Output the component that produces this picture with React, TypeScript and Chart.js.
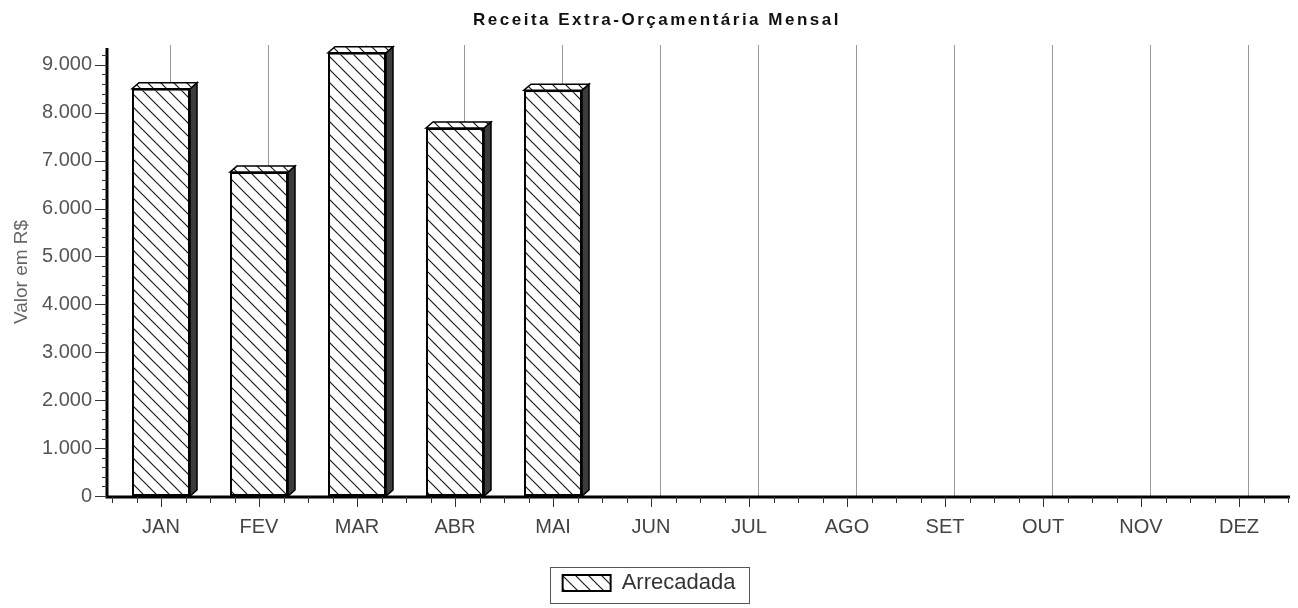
import { useEffect, useRef } from 'react';
import { Chart, registerables } from 'chart.js';

Chart.register(...registerables);

const TITLE = 'Receita Extra-Orçamentária Mensal';
const Y_TITLE = 'Valor em R$';
const SERIES_LABEL = 'Arrecadada';
const MONTHS = ['JAN', 'FEV', 'MAR', 'ABR', 'MAI', 'JUN', 'JUL', 'AGO', 'SET', 'OUT', 'NOV', 'DEZ'];
const ARRECADADA: (number | null)[] = [8500, 6760, 9250, 7680, 8470, null, null, null, null, null, null, null];
const Y_TICKS = [0, 1000, 2000, 3000, 4000, 5000, 6000, 7000, 8000, 9000];
const Y_MAX = 9350;
const Y_STEP = 1000;
const Y_MINOR_STEP = 200;

const FONT = '"Liberation Sans", Arial, sans-serif';
const DEPTH_X = 7;
const DEPTH_Y = 6;

function fmt(v: number): string {
  return String(Math.round(v)).replace(/\B(?=(\d{3})+(?!\d))/g, '.');
}

function makeHatch(ctx: CanvasRenderingContext2D): CanvasPattern | string {
  const s = 13;
  const c = document.createElement('canvas');
  c.width = s;
  c.height = s;
  const g = c.getContext('2d');
  if (!g) return '#fff';
  g.fillStyle = '#ffffff';
  g.fillRect(0, 0, s, s);
  g.strokeStyle = '#1a1a1a';
  g.lineWidth = 1.2;
  for (const k of [-1, 0, 1]) {
    g.beginPath();
    g.moveTo(0, k * s);
    g.lineTo(s, (k + 1) * s);
    g.stroke();
  }
  return ctx.createPattern(c, 'repeat') || '#fff';
}

const decorPlugin = {
  id: 'decor',
  beforeDatasetsDraw(chart: any) {
    const { ctx, chartArea } = chart;
    const xs = chart.scales.x;
    ctx.save();
    ctx.strokeStyle = '#9a9a9a';
    ctx.lineWidth = 1;
    for (let i = 0; i < MONTHS.length; i++) {
      const x = Math.round(xs.getPixelForTick(i) + 9) + 0.5;
      ctx.beginPath();
      ctx.moveTo(x, chartArea.top - 3);
      ctx.lineTo(x, chartArea.bottom);
      ctx.stroke();
    }
    ctx.restore();
  },
  afterDatasetsDraw(chart: any) {
    const { ctx, chartArea } = chart;
    const pattern = chart.$hatch;
    const meta = chart.getDatasetMeta(0);
    ctx.save();
    meta.data.forEach((bar: any, i: number) => {
      if (ARRECADADA[i] == null) return;
      const { x, y, base, width } = bar.getProps(['x', 'y', 'base', 'width'], true);
      const L = x - width / 2;
      const R = x + width / 2;
      ctx.lineWidth = 1.5;
      ctx.strokeStyle = '#000';
      // right side face
      ctx.beginPath();
      ctx.moveTo(R, y);
      ctx.lineTo(R + DEPTH_X, y - DEPTH_Y);
      ctx.lineTo(R + DEPTH_X, base - DEPTH_Y);
      ctx.lineTo(R, base);
      ctx.closePath();
      ctx.fillStyle = '#3c3c3c';
      ctx.fill();
      ctx.stroke();
      // top face
      ctx.beginPath();
      ctx.moveTo(L, y);
      ctx.lineTo(L + DEPTH_X, y - DEPTH_Y);
      ctx.lineTo(R + DEPTH_X, y - DEPTH_Y);
      ctx.lineTo(R, y);
      ctx.closePath();
      ctx.fillStyle = pattern;
      ctx.fill();
      ctx.stroke();
    });

    // axes
    const ys = chart.scales.y;
    const axisX = chartArea.left - 5;
    const axisY = chartArea.bottom + 1;
    ctx.strokeStyle = '#000';
    ctx.lineWidth = 3;
    ctx.beginPath();
    ctx.moveTo(axisX, chartArea.top);
    ctx.lineTo(axisX, axisY + 1.5);
    ctx.moveTo(axisX - 1.5, axisY);
    ctx.lineTo(chartArea.right + 2, axisY);
    ctx.stroke();

    ctx.lineWidth = 1;
    ctx.strokeStyle = '#333';
    for (let v = 0; v <= Y_MAX; v += Y_MINOR_STEP) {
      const py = Math.round(ys.getPixelForValue(v)) + 0.5;
      const major = v % Y_STEP === 0;
      ctx.beginPath();
      ctx.moveTo(axisX - (major ? 12 : 5), py);
      ctx.lineTo(axisX, py);
      ctx.stroke();
    }
    const cw = (chartArea.right - chartArea.left) / MONTHS.length;
    for (let k = 0; k <= MONTHS.length * 4; k++) {
      const px = Math.round(chartArea.left + (k * cw) / 4) + 0.5;
      const major = k % 4 === 2;
      ctx.beginPath();
      ctx.moveTo(px, axisY);
      ctx.lineTo(px, axisY + (major ? 10 : 6));
      ctx.stroke();
    }
    ctx.restore();
  },
  afterDraw(chart: any) {
    const { ctx } = chart;
    ctx.save();
    // title
    ctx.font = 'bold 17px ' + FONT;
    ctx.fillStyle = '#111';
    ctx.textAlign = 'center';
    ctx.textBaseline = 'middle';
    (ctx as any).letterSpacing = '2.5px';
    ctx.fillText(TITLE, chart.width / 2 + 8, 20);
    (ctx as any).letterSpacing = '0px';
    // legend frame
    const lg = chart.legend;
    if (lg && lg.legendHitBoxes && lg.legendHitBoxes.length) {
      const hb = lg.legendHitBoxes[0];
      ctx.strokeStyle = '#555';
      ctx.lineWidth = 1;
      const l = Math.round(hb.left - 13) + 0.5;
      const r = Math.round(hb.left + hb.width + 14) + 0.5;
      const t = Math.round(lg.top + 2) + 0.5;
      const b = Math.round(lg.bottom) - 0.5;
      ctx.strokeRect(l, t, r - l, b - t);
    }
    ctx.restore();
  },
};

export default function App() {
  const ref = useRef<HTMLCanvasElement | null>(null);

  useEffect(() => {
    document.body.style.margin = '0';
    const canvas = ref.current;
    if (!canvas) return;
    const ctx = canvas.getContext('2d');
    if (!ctx) return;
    const hatch = makeHatch(ctx);
    Chart.defaults.font.family = FONT;

    const chart = new Chart(canvas, {
      type: 'bar',
      data: {
        labels: MONTHS,
        datasets: [
          {
            label: SERIES_LABEL,
            data: ARRECADADA,
            backgroundColor: hatch as any,
            borderColor: '#000',
            borderWidth: 2,
            borderSkipped: false,
            barPercentage: 0.592,
            categoryPercentage: 1,
          },
        ],
      },
      options: {
        responsive: false,
        animation: false,
        layout: { padding: { top: 48, right: 10, bottom: 4, left: 10 } },
        plugins: {
          title: { display: false },
          tooltip: { enabled: false },
          legend: {
            display: true,
            position: 'bottom',
            labels: {
              boxWidth: 48,
              boxHeight: 16,
              padding: 7,
              color: '#333',
              font: { size: 22, family: FONT },
            },
          },
        },
        scales: {
          x: {
            grid: { display: false, drawTicks: false },
            border: { display: false },
            ticks: {
              color: '#444',
              padding: 19,
              font: { size: 20, family: FONT },
              autoSkip: false,
              maxRotation: 0,
            },
            afterFit: (scale: any) => {
              scale.height = 69;
            },
          },
          y: {
            min: 0,
            max: Y_MAX,
            grid: { display: false, drawTicks: false },
            border: { display: false },
            afterBuildTicks: (scale: any) => {
              scale.ticks = Y_TICKS.map((v) => ({ value: v }));
            },
            ticks: {
              color: '#555',
              padding: 20,
              font: { size: 20, family: FONT },
              callback: (v: any) => fmt(Number(v)),
            },
            title: {
              display: true,
              text: Y_TITLE,
              color: '#666',
              font: { size: 19, family: FONT },
              padding: { top: 0, bottom: 0 },
            },
            afterFit: (scale: any) => {
              scale.width = 102;
            },
          },
        },
      },
      plugins: [decorPlugin],
    } as any);
    (chart as any).$hatch = hatch;
    chart.draw();

    return () => {
      chart.destroy();
    };
  }, []);

  return (
    <div style={{ width: 1298, height: 608, position: 'relative', background: '#fff' }}>
      <canvas ref={ref} width={1298} height={608} style={{ display: 'block' }} />
    </div>
  );
}
